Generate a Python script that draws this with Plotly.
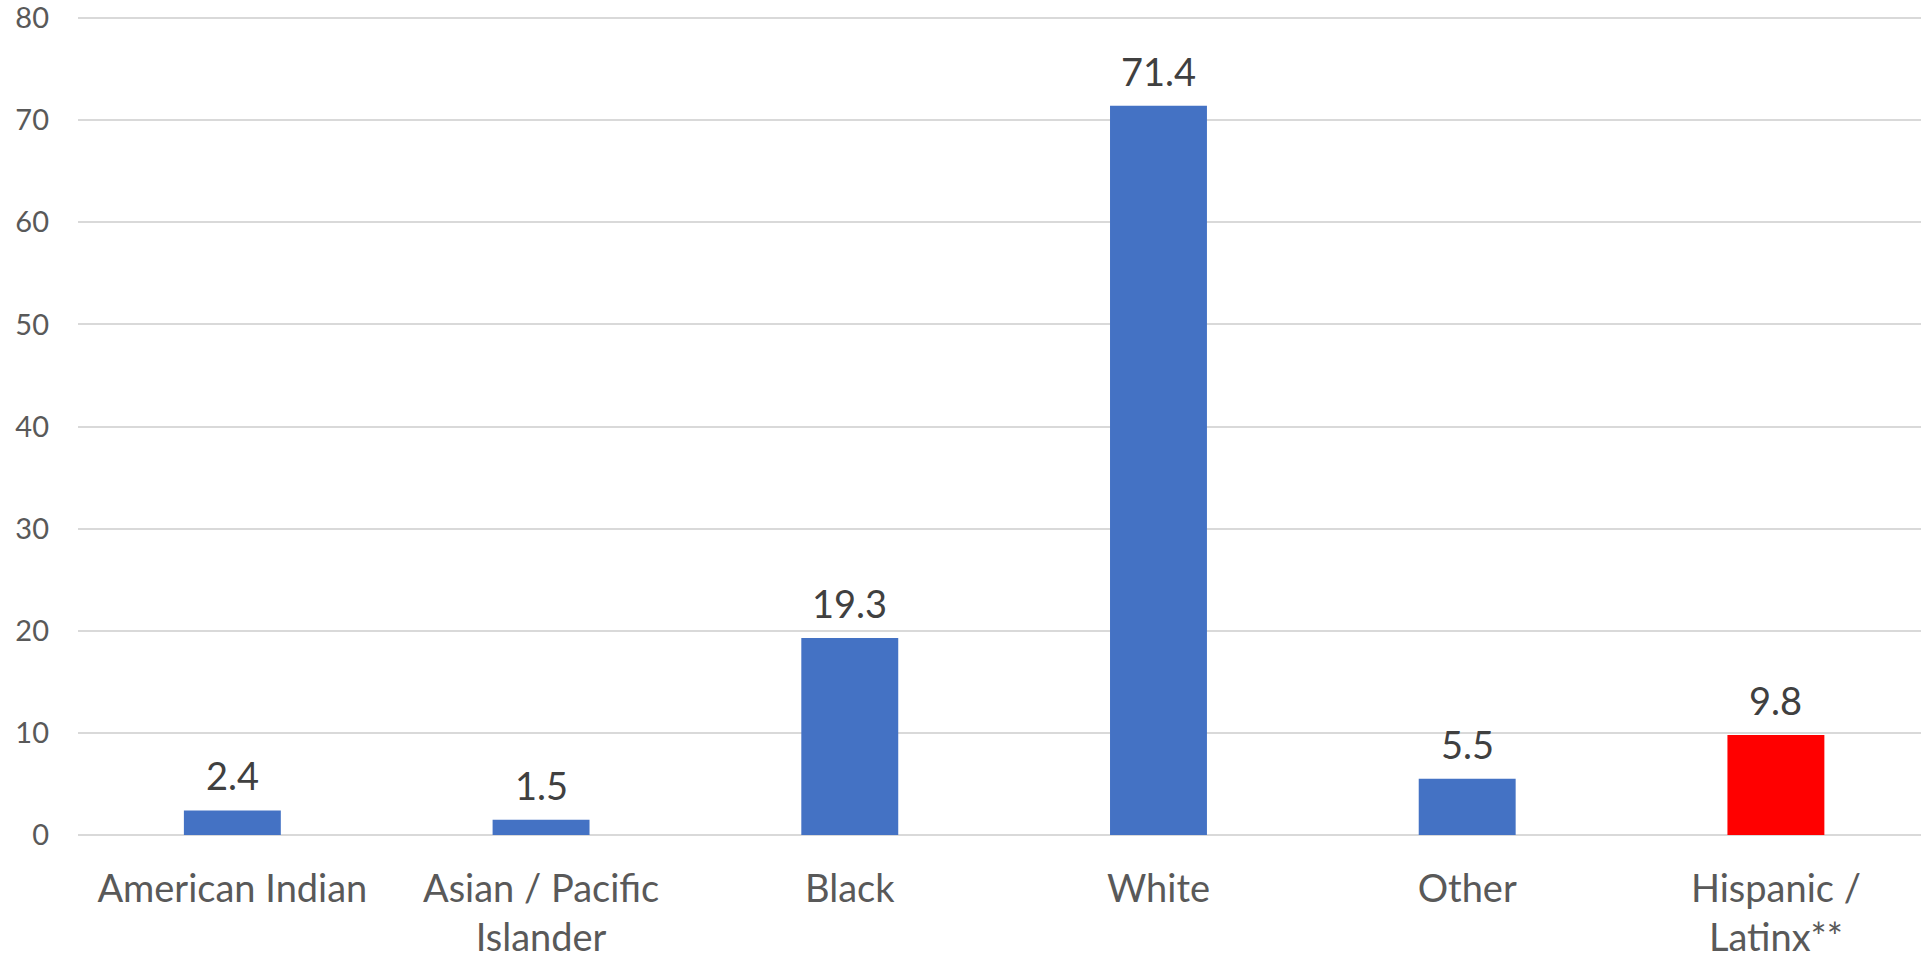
import plotly.graph_objects as go

categories = ["American Indian", "Asian / Pacific Islander", "Black", "White", "Other", "Hispanic / Latinx**"]
tick_labels = ["American Indian", "Asian / Pacific<br>Islander", "Black", "White", "Other", "Hispanic /<br>Latinx**"]
values = [2.4, 1.5, 19.3, 71.4, 5.5, 9.8]
bar_colors = ["#4472C4", "#4472C4", "#4472C4", "#4472C4", "#4472C4", "#FF0000"]
y_ticks = [0, 10, 20, 30, 40, 50, 60, 70, 80]

FONT = "Lato, Calibri, Carlito, sans-serif"
x_idx = list(range(len(categories)))

fig = go.Figure()
fig.add_trace(go.Bar(
    x=x_idx, y=values, marker=dict(color=bar_colors, line=dict(width=0)),
    width=0.314, hoverinfo="skip", showlegend=False,
))

for i, v in zip(x_idx, values):
    fig.add_annotation(
        x=i, y=v, text=f"{v}", showarrow=False, yanchor="bottom",
        yshift=10, font=dict(family=FONT, size=38, color="#404040"),
    )

fig.update_layout(
    width=1921, height=960,
    margin=dict(l=78, r=0, t=17, b=125),
    paper_bgcolor="white", plot_bgcolor="white",
    font=dict(family=FONT),
    xaxis=dict(
        range=[-0.5, 5.47], tickmode="array", tickvals=x_idx, ticktext=tick_labels,
        showgrid=False, zeroline=False, showline=False, ticks="",
        tickfont=dict(family=FONT, size=38, color="#595959"),
        ticklabelstandoff=28, automargin=False, ticklabeloverflow="allow",
    ),
    yaxis=dict(
        range=[0, 80.1], tickmode="array", tickvals=y_ticks,
        ticktext=[str(t) for t in y_ticks],
        showgrid=True, gridcolor="#D9D9D9", gridwidth=2,
        zeroline=True, zerolinecolor="#D9D9D9", zerolinewidth=2,
        showline=False, ticks="",
        tickfont=dict(family=FONT, size=29, color="#595959"),
        ticklabelstandoff=28, automargin=False, ticklabeloverflow="allow",
    ),
)

fig.write_html("out.html")
